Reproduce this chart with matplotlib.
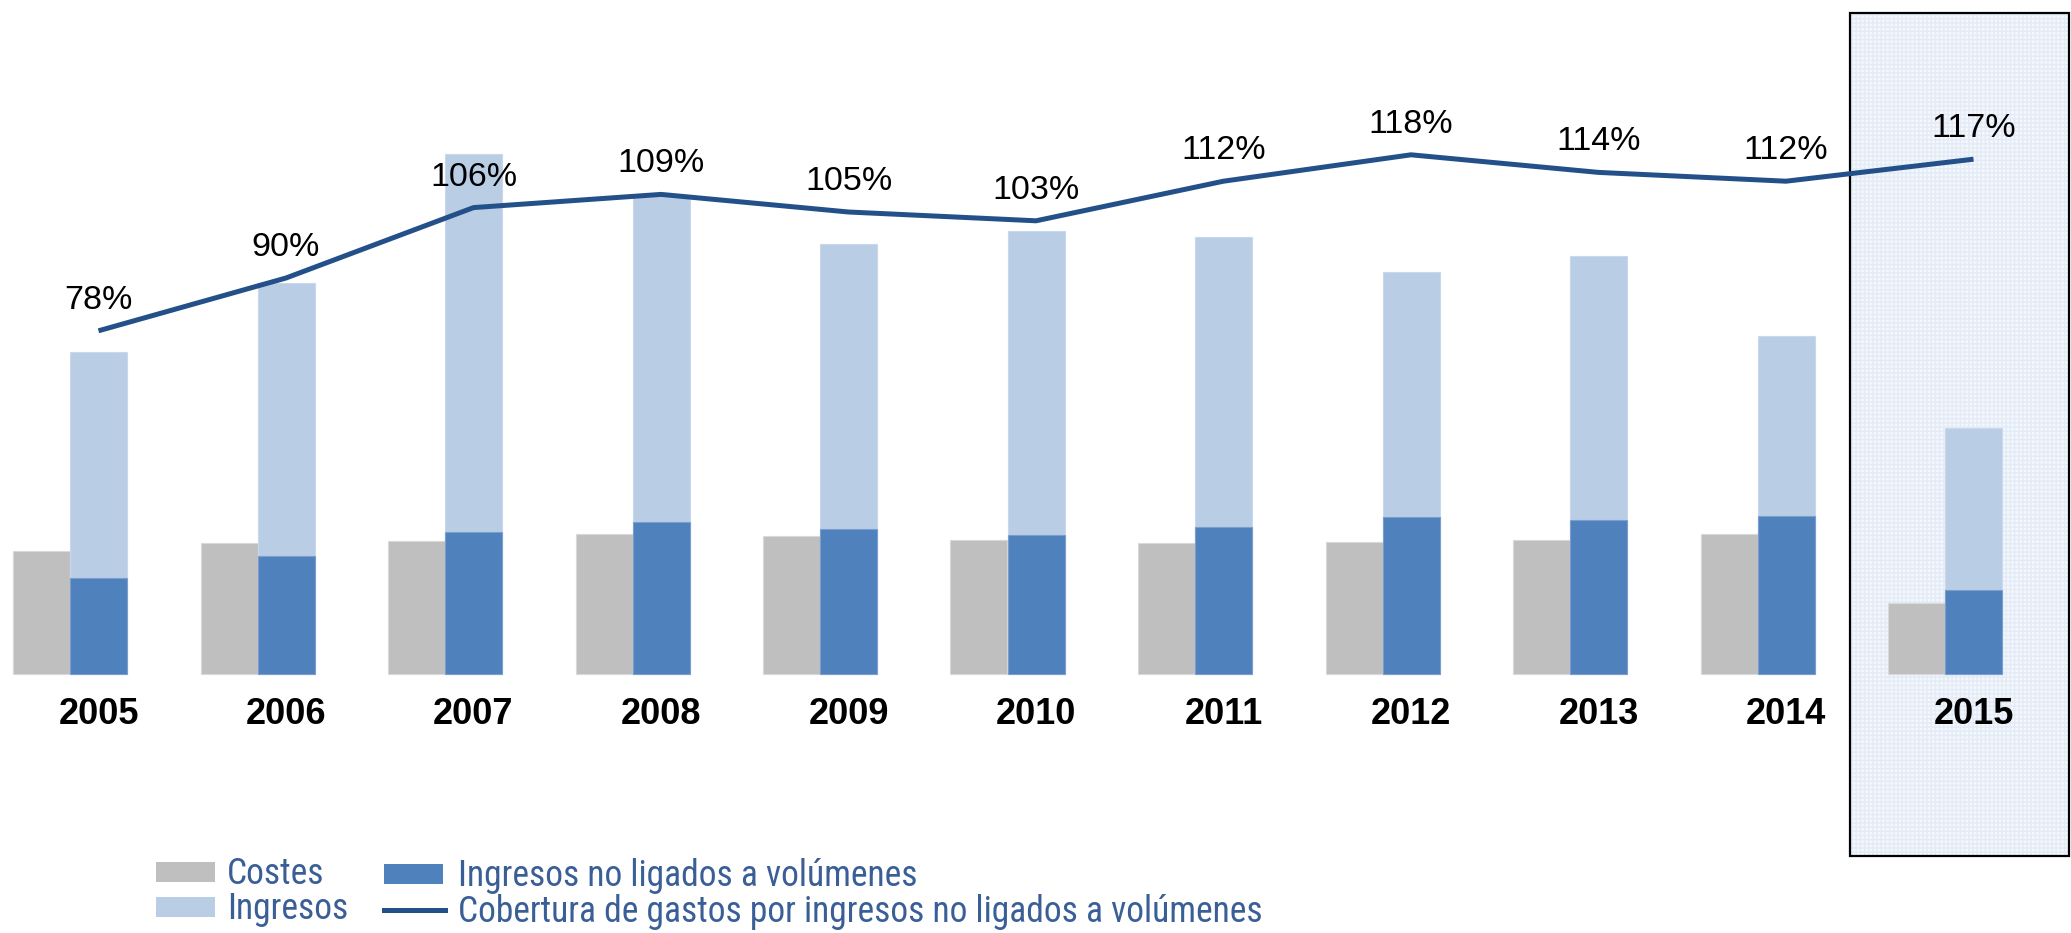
import matplotlib
matplotlib.use("Agg")
import matplotlib.pyplot as plt
from matplotlib import font_manager
from matplotlib.patches import Rectangle
from matplotlib.lines import Line2D
import numpy as np

# values (bar units are arbitrary, same scale for all bars)
years = ["2005", "2006", "2007", "2008", "2009", "2010",
         "2011", "2012", "2013", "2014", "2015"]
costes = [123, 131, 133, 140, 138, 134, 131, 132, 134, 140, 71]
ingresos = [322, 391, 520, 479, 430, 443, 437, 402, 418, 338, 246]
ingresos_no_ligados = [96, 118, 142, 152, 145, 139, 147, 157, 154, 158, 84]
cobertura = [78, 90, 106, 109, 105, 103, 112, 118, 114, 112, 117]

legend_labels = ["Costes", "Ingresos", "Ingresos no ligados a volúmenes",
                 "Cobertura de gastos por ingresos no ligados a volúmenes"]

C_GRAY = "#bfbfbf"
C_LIGHT = "#b9cde5"
C_DARK = "#4f81bd"
C_LINE = "#24508a"
C_LEGEND_TXT = "#3a5f97"


def pick_font(names, default="DejaVu Sans"):
    for n in names:
        try:
            font_manager.findfont(n, fallback_to_default=False)
            return n
        except Exception:
            continue
    return default


MAIN_FONT = pick_font(["Liberation Sans", "Arial"])
NARROW_FONT = pick_font(["Liberation Sans Narrow", "Arial Narrow",
                         "Roboto Condensed", "Open Sans Condensed"], MAIN_FONT)
narrow_found = NARROW_FONT != MAIN_FONT

W, H = 2071, 933
fig = plt.figure(figsize=(W / 100, H / 100), dpi=100)
ax = fig.add_axes([0, 0, 1, 1])
ax2 = ax.twinx()

# category spacing 187.5 px, first blue bar centre at 98.5 px, baseline 259 px from bottom
step = 187.5
x0 = 98.5
ax.set_xlim(-x0 / step, (W - x0) / step)
base = 259
ax.set_ylim(-base, H - base)
px_per_pct = 4.4
ax2.set_ylim(-base / px_per_pct, (H - base) / px_per_pct)

for a in (ax, ax2):
    a.set_axis_off()

x = np.arange(len(years))
bw = 57 / step

# highlighted box around the last year (fine light grid, black frame)
box_xy = (1850 / W, 77 / H)
box_w, box_h = 219 / W, 843 / H
ax.add_patch(Rectangle(box_xy, box_w, box_h, transform=fig.transFigure,
                       facecolor="#f4f7fc", edgecolor="none", zorder=0.5,
                       clip_on=False))
ax.add_patch(Rectangle(box_xy, box_w, box_h, transform=fig.transFigure,
                       facecolor="none", edgecolor="#e3ebf6", hatch="++++",
                       linewidth=0, zorder=0.6, clip_on=False))
ax.add_patch(Rectangle(box_xy, box_w, box_h, transform=fig.transFigure,
                       facecolor="none", edgecolor="black", linewidth=1.6,
                       zorder=0.7, clip_on=False))

ax.bar(x - bw, costes, width=bw, color=C_GRAY, edgecolor="#d9d9d9",
       linewidth=0.8, zorder=2)
ax.bar(x, ingresos, width=bw, color=C_LIGHT, edgecolor="#c9d8ec",
       linewidth=0.8, zorder=2)
ax.bar(x, ingresos_no_ligados, width=bw, color=C_DARK, edgecolor="#7a9fcf",
       linewidth=0.8, zorder=3)

ax2.plot(x, cobertura, color=C_LINE, linewidth=3.6, zorder=4,
         solid_capstyle="butt")
for xi, v in zip(x, cobertura):
    ax2.annotate(f"{v}%", (xi, v), xytext=(0, 22), textcoords="offset points",
                 ha="center", va="center", fontsize=24.5, family=MAIN_FONT,
                 color="black", zorder=5)

for xi, lab in zip(x, years):
    ax.text(xi, -41, lab, ha="center", va="center", fontsize=26,
            fontweight="bold", family=MAIN_FONT, color="black")


# legend, drawn in figure pixels
def fx(px):
    return px / W


def fy(py_top):
    return 1 - py_top / H


leg_items = [
    ("patch", C_GRAY, 156, 872, 227, legend_labels[0]),
    ("patch", C_LIGHT, 156, 907, 227, legend_labels[1]),
    ("patch", C_DARK, 384, 874, 458, legend_labels[2]),
    ("line", C_LINE, 384, 910, 458, legend_labels[3]),
]
leg_size = 25.6 if narrow_found else 23
for kind, col, px, py, tx, lab in leg_items:
    if kind == "patch":
        fig.patches.append(Rectangle((fx(px), fy(py + 10)), 59 / W, 20 / H,
                                     transform=fig.transFigure, facecolor=col,
                                     edgecolor="none"))
    else:
        fig.lines.append(Line2D([fx(px), fx(px + 61)], [fy(py), fy(py)],
                                transform=fig.transFigure, color=col,
                                linewidth=3.6))
    fig.text(fx(tx), fy(py + 2), lab, ha="left", va="center", fontsize=leg_size,
             family=NARROW_FONT, color=C_LEGEND_TXT)

fig.savefig("out.png", dpi=100)
